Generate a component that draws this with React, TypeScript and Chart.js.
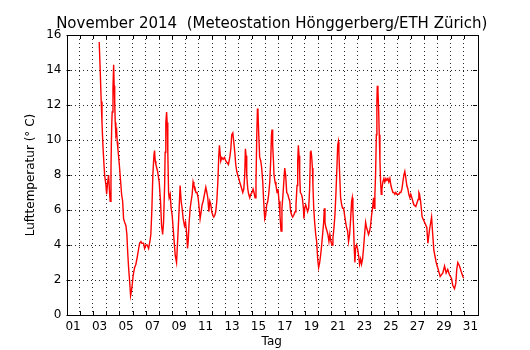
import { useEffect, useRef } from 'react';
import { Chart, registerables } from 'chart.js';
Chart.register(...registerables);

const chartTitle = 'November 2014  (Meteostation Hönggerberg/ETH Zürich)';
const xAxisTitle = 'Tag';
const yAxisTitle = 'Lufttemperatur (° C)';
const dayLabels = ['01', '03', '05', '07', '09', '11', '13', '15', '17', '19', '21', '23', '25', '27', '29', '31'];
const yTickValues = [0, 2, 4, 6, 8, 10, 12, 14, 16];

// time in days since 1 Nov 00:00
const days = [
  2.47, 2.55, 2.62, 2.68, 2.75, 2.83, 2.88, 2.98, 3.03, 3.11, 3.18, 3.26, 3.30, 3.36, 3.41, 3.45, 3.51, 3.56, 3.58, 3.60,
  3.64, 3.68, 3.73, 3.79, 3.83, 3.88, 3.94, 4.01, 4.09, 4.16, 4.24, 4.31, 4.39, 4.49, 4.56, 4.62, 4.69, 4.77, 4.84, 4.89,
  4.96, 5.04, 5.14, 5.24, 5.34, 5.45, 5.52, 5.62, 5.69, 5.82, 5.90, 6.00, 6.09, 6.20, 6.30, 6.37, 6.45, 6.52, 6.60, 6.65,
  6.70, 6.75, 6.88, 7.00, 7.10, 7.18, 7.26, 7.33, 7.41, 7.45, 7.50, 7.56, 7.60, 7.65, 7.71, 7.75, 7.83, 7.90, 7.98, 8.05,
  8.13, 8.21, 8.31, 8.39, 8.46, 8.54, 8.58, 8.66, 8.73, 8.81, 8.91, 8.99, 9.06, 9.14, 9.19, 9.26, 9.34, 9.41, 9.49, 9.56,
  9.62, 9.69, 9.77, 9.86, 9.94, 10.02, 10.09, 10.17, 10.24, 10.32, 10.42, 10.52, 10.60, 10.67, 10.75, 10.82, 10.90, 10.97, 11.05, 11.12,
  11.20, 11.27, 11.35, 11.43, 11.50, 11.55, 11.58, 11.65, 11.73, 11.83, 11.93, 12.03, 12.13, 12.23, 12.33, 12.41, 12.48, 12.56, 12.63, 12.71,
  12.78, 12.86, 12.93, 13.01, 13.08, 13.16, 13.24, 13.31, 13.39, 13.46, 13.51, 13.56, 13.61, 13.69, 13.76, 13.84, 13.91, 14.01, 14.09, 14.16,
  14.24, 14.31, 14.37, 14.42, 14.46, 14.52, 14.59, 14.67, 14.74, 14.82, 14.89, 14.97, 15.04, 15.12, 15.20, 15.27, 15.35, 15.42, 15.48, 15.52,
  15.57, 15.63, 15.67, 15.75, 15.82, 15.90, 15.97, 16.05, 16.12, 16.20, 16.27, 16.35, 16.40, 16.48, 16.55, 16.63, 16.71, 16.78, 16.86, 16.93,
  17.01, 17.08, 17.16, 17.26, 17.33, 17.41, 17.46, 17.51, 17.56, 17.61, 17.66, 17.74, 17.81, 17.89, 17.93, 17.99, 18.06, 18.14, 18.21, 18.29,
  18.36, 18.42, 18.46, 18.51, 18.57, 18.61, 18.67, 18.74, 18.82, 18.89, 18.97, 19.04, 19.12, 19.19, 19.27, 19.34, 19.42, 19.47, 19.52, 19.59,
  19.67, 19.74, 19.82, 19.89, 19.97, 20.05, 20.12, 20.20, 20.27, 20.35, 20.42, 20.48, 20.53, 20.57, 20.63, 20.70, 20.78, 20.85, 20.93, 21.00,
  21.08, 21.15, 21.23, 21.30, 21.38, 21.46, 21.53, 21.58, 21.63, 21.68, 21.73, 21.78, 21.83, 21.91, 21.98, 22.06, 22.13, 22.21, 22.28, 22.36,
  22.43, 22.51, 22.59, 22.66, 22.74, 22.81, 22.89, 22.96, 23.04, 23.11, 23.19, 23.24, 23.29, 23.34, 23.40, 23.44, 23.47, 23.52, 23.57, 23.62,
  23.67, 23.72, 23.77, 23.82, 23.89, 23.97, 24.04, 24.12, 24.19, 24.27, 24.34, 24.42, 24.50, 24.57, 24.65, 24.72, 24.80, 24.87, 24.95, 25.02,
  25.10, 25.17, 25.25, 25.33, 25.40, 25.48, 25.55, 25.63, 25.70, 25.78, 25.85, 25.93, 26.00, 26.08, 26.23, 26.38, 26.55, 26.61, 26.66, 26.74,
  26.86, 27.04, 27.21, 27.29, 27.42, 27.57, 27.62, 27.74, 27.92, 28.07, 28.22, 28.42, 28.55, 28.67, 28.79, 28.92, 29.07, 29.17, 29.30, 29.40,
  29.47, 29.55, 29.68, 29.80, 29.93, 30.00,
];

const temps = [
  15.6, 13.9, 12.2, 11.0, 9.7, 8.6, 8.0, 7.4, 6.9, 7.6, 8.0, 6.9, 6.5, 8.4, 10.7, 11.6, 13.0, 14.3, 14.3, 13.1,
  12.2, 11.0, 10.3, 10.5, 9.9, 9.5, 9.0, 8.4, 7.6, 6.9, 6.5, 5.5, 5.3, 5.1, 4.6, 3.6, 2.7, 1.9, 1.1, 1.3,
  1.7, 2.3, 2.7, 2.9, 3.3, 3.8, 4.1, 4.2, 4.1, 4.1, 3.8, 4.0, 4.0, 3.8, 4.2, 4.6, 6.1, 8.0, 9.1, 9.4,
  8.8, 8.6, 8.2, 7.6, 6.5, 5.1, 4.6, 5.3, 7.4, 9.3, 11.0, 11.6, 11.0, 9.3, 7.0, 6.7, 6.9, 6.1, 5.7, 5.0,
  4.2, 3.4, 3.0, 4.2, 5.3, 6.7, 7.4, 6.5, 6.1, 5.5, 5.1, 5.3, 4.8, 3.8, 4.2, 5.3, 6.1, 6.5, 6.9, 7.6,
  7.4, 7.3, 7.0, 7.0, 6.7, 6.1, 5.5, 5.9, 6.3, 6.5, 6.9, 7.3, 7.0, 6.7, 5.9, 6.5, 6.3, 5.9, 5.7, 5.6,
  5.7, 5.9, 6.5, 7.6, 9.1, 9.7, 9.7, 8.8, 9.0, 8.9, 9.0, 8.8, 8.7, 8.6, 9.0, 9.5, 10.3, 10.4, 9.9, 9.3,
  8.6, 8.2, 8.0, 7.8, 7.6, 7.4, 7.2, 7.0, 7.2, 8.0, 9.5, 9.1, 8.0, 7.2, 6.9, 6.7, 6.9, 7.0, 7.2, 7.0,
  6.7, 7.6, 10.3, 11.8, 11.6, 10.3, 9.0, 8.8, 8.4, 7.6, 6.5, 5.5, 5.7, 6.3, 6.5, 6.9, 7.6, 8.8, 10.3, 10.6,
  9.7, 8.8, 8.0, 7.6, 7.4, 7.0, 7.2, 6.5, 5.7, 4.8, 6.1, 6.9, 6.9, 8.4, 8.0, 7.0, 6.9, 6.7, 6.5, 5.9,
  5.7, 5.6, 5.7, 5.9, 6.3, 7.4, 8.8, 9.7, 9.1, 8.0, 7.0, 6.9, 6.7, 6.1, 5.5, 6.1, 6.3, 6.1, 5.9, 6.1,
  7.2, 9.3, 9.4, 9.1, 8.4, 7.4, 6.1, 5.3, 4.6, 4.2, 3.2, 2.7, 3.0, 3.4, 4.0, 4.6, 5.3, 6.1, 5.3, 5.0,
  4.8, 4.6, 4.2, 4.6, 4.2, 4.0, 4.4, 5.0, 5.7, 7.0, 8.4, 9.7, 9.9, 9.3, 8.0, 6.7, 6.3, 6.1, 6.1, 5.7,
  5.3, 5.0, 4.8, 4.2, 4.6, 5.5, 6.5, 6.7, 5.9, 5.0, 3.8, 3.0, 3.8, 4.0, 3.8, 3.4, 2.9, 3.2, 2.9, 3.2,
  3.8, 4.6, 5.3, 5.0, 4.8, 4.6, 4.8, 5.1, 5.7, 6.1, 6.7, 6.1, 6.9, 8.0, 10.3, 12.2, 13.1, 12.8, 11.8, 10.3,
  8.8, 7.6, 6.9, 7.2, 7.6, 7.8, 7.6, 7.8, 7.7, 7.8, 7.6, 7.8, 7.4, 7.2, 7.0, 7.0, 6.9, 7.0, 6.9, 6.9,
  6.9, 7.0, 7.0, 7.2, 7.6, 8.0, 8.2, 7.8, 7.4, 7.2, 6.9, 6.7, 6.9, 6.7, 6.3, 6.2, 6.6, 7.0, 6.9, 6.5,
  5.6, 5.3, 5.0, 4.1, 4.9, 5.6, 5.0, 3.7, 3.0, 2.6, 2.2, 2.4, 2.8, 2.4, 2.6, 2.3, 2.1, 1.7, 1.5, 1.8,
  2.6, 3.0, 2.8, 2.5, 2.2, 2.1,
];

const FONT = '"DejaVu Sans", sans-serif';

const framePlugin = {
  id: 'frameAndTitle',
  afterDraw(chart: any) {
    const { ctx, chartArea } = chart;
    const { left, right, top, bottom } = chartArea;
    const xs = chart.scales.x;
    const ys = chart.scales.y;
    ctx.save();
    ctx.strokeStyle = '#000';
    ctx.lineWidth = 1;
    // inward tick marks
    ctx.beginPath();
    for (let d = 1; d < 31; d++) {
      const px = Math.round(xs.getPixelForValue(d)) + 0.5;
      ctx.moveTo(px, bottom);
      ctx.lineTo(px, bottom - 4);
      ctx.moveTo(px, top);
      ctx.lineTo(px, top + 4);
    }
    for (const v of yTickValues) {
      const py = Math.round(ys.getPixelForValue(v)) + 0.5;
      ctx.moveTo(left, py);
      ctx.lineTo(left + 4, py);
      ctx.moveTo(right, py);
      ctx.lineTo(right - 4, py);
    }
    ctx.stroke();
    // frame
    ctx.strokeRect(Math.round(left) + 0.5, Math.round(top) + 0.5, Math.round(right - left), Math.round(bottom - top));
    // title
    ctx.fillStyle = '#000';
    ctx.font = `15px ${FONT}`;
    ctx.textAlign = 'center';
    ctx.textBaseline = 'alphabetic';
    ctx.fillText(chartTitle, (left + right) / 2, 28);
    ctx.restore();
  },
};

export default function App() {
  const ref = useRef<HTMLCanvasElement | null>(null);
  useEffect(() => {
    document.body.style.margin = '0';
    const ticks: number[] = [];
    for (let i = 0; i <= 62; i++) ticks.push(i / 2);
    const chart = new Chart(ref.current as HTMLCanvasElement, {
      type: 'line',
      data: {
        datasets: [
          {
            data: days.map((d, i) => ({ x: d, y: temps[i] })),
            borderColor: '#ff0000',
            borderWidth: 1.4,
            pointRadius: 0,
            fill: false,
            tension: 0,
          },
        ],
      },
      options: {
        animation: false,
        responsive: false,
        maintainAspectRatio: false,
        layout: { padding: { left: 0, top: 35, right: 53, bottom: 0 } },
        plugins: { legend: { display: false }, tooltip: { enabled: false }, title: { display: false } },
        scales: {
          x: {
            type: 'linear',
            min: 0,
            max: 31,
            afterBuildTicks: (scale: any) => {
              scale.ticks = ticks.map((v) => ({ value: v }));
            },
            afterFit: (scale: any) => {
              scale.height = 35;
            },
            border: { display: false },
            grid: {
              drawTicks: false,
              lineWidth: 1,
              color: (c: any) => {
                const v = c.tick ? c.tick.value : 0;
                return Number.isInteger(v) && v > 0 && v < 31 ? 'rgba(0,0,0,0.85)' : 'rgba(0,0,0,0)';
              },
              tickBorderDash: [1, 3],
            } as any,
            ticks: {
              autoSkip: false,
              maxRotation: 0,
              padding: 5,
              color: '#000',
              font: { family: FONT, size: 12 },
              callback: (v: any) => {
                const n = Number(v);
                if (Number.isInteger(n)) return '';
                const day = Math.round(n + 0.5);
                return day % 2 === 1 ? dayLabels[(day - 1) / 2] : '';
              },
            },
            title: {
              display: true,
              text: xAxisTitle,
              color: '#000',
              font: { family: FONT, size: 12 },
              padding: { top: 0, bottom: 1 },
            },
          },
          y: {
            min: 0,
            max: 16,
            afterBuildTicks: (scale: any) => {
              scale.ticks = yTickValues.map((v) => ({ value: v }));
            },
            afterFit: (scale: any) => {
              scale.width = 66.5;
            },
            border: { display: false },
            grid: {
              drawTicks: false,
              lineWidth: 1,
              color: (c: any) => {
                const v = c.tick ? c.tick.value : 0;
                return v > 0 && v < 16 ? 'rgba(0,0,0,0.85)' : 'rgba(0,0,0,0)';
              },
            },
            ticks: {
              padding: 5,
              color: '#000',
              font: { family: FONT, size: 12 },
              callback: (v: any) => String(v),
            },
            title: {
              display: true,
              text: yAxisTitle,
              color: '#000',
              font: { family: FONT, size: 12 },
              padding: { top: 24, bottom: 0 },
            },
          },
        },
      } as any,
      plugins: [
        {
          id: 'dashGrid',
          beforeDraw(chart: any) {
            chart.options.scales.x.grid.borderDash = [1, 3];
          },
        },
        framePlugin,
      ],
    });
    // dotted grid lines
    (chart.options.scales as any).x.border = { display: false, dash: [1, 3] };
    (chart.options.scales as any).y.border = { display: false, dash: [1, 3] };
    chart.update();
    return () => chart.destroy();
  }, []);
  return (
    <div style={{ width: 530, height: 350 }}>
      <canvas ref={ref} width={530} height={350} style={{ display: 'block', width: 530, height: 350 }} />
    </div>
  );
}
